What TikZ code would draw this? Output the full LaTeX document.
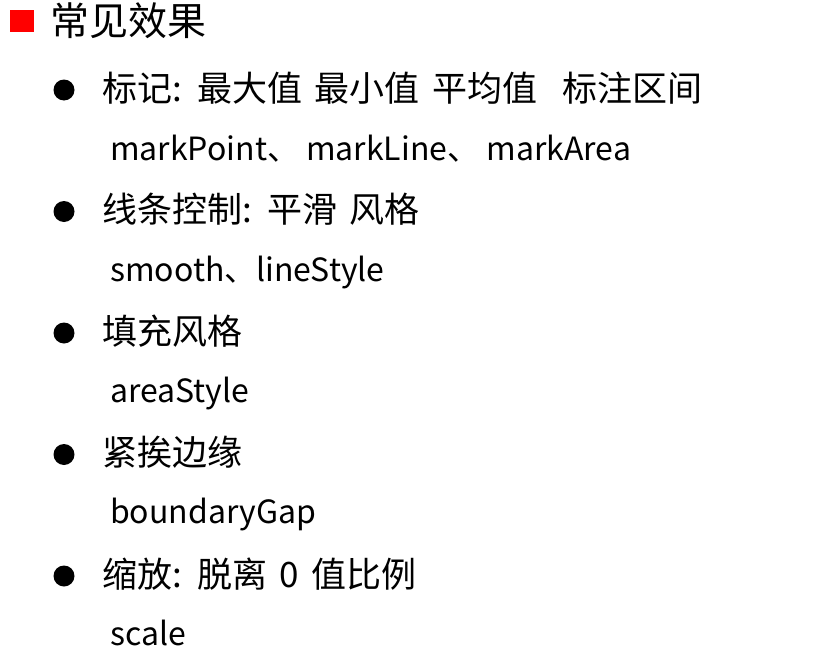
\documentclass[tikz,border=0pt]{standalone}
\usepackage{fontspec}
\setmainfont{Noto Sans CJK SC}
\newfontfamily\headfont{Noto Sans CJK SC}[WordSpace=1.6]
\tikzset{
	headtxt/.style={anchor=base west,inner sep=0pt,font=\headfont\fontsize{35}{40}\selectfont},
	subtxt/.style={anchor=base west,inner sep=0pt,font=\fontsize{32}{38}\selectfont},
	dot/.style={circle,fill=black,inner sep=0pt,minimum size=21pt}
}
\begin{document}
\begin{tikzpicture}[x=1pt,y=-1pt,line join=round,line cap=round]
	\useasboundingbox (0,0) rectangle (839,656);
	\fill[red] (10,10) rectangle (34,32);
	\node[anchor=base west,inner sep=0pt,font=\fontsize{39}{45}\selectfont] (title) at (50,35) {常见效果};
	% bullets and their sub lines
	\foreach \k/\head/\sub in {0/{标记: 最大值 最小值 平均值 \ 标注区间}/{markPoint、 markLine、 markArea},
		1/{线条控制: 平滑 风格}/{smooth、lineStyle},
		2/{填充风格}/{areaStyle},
		3/{紧挨边缘}/{boundaryGap},
		4/{缩放: 脱离 0 值比例}/{scale}}
	{
		\node[dot] (dot\k) at (64,{90+121.5*\k}) {};
		\node[headtxt] (head\k) at (102,{101+121.5*\k}) {\head};
		\node[subtxt] (sub\k) at (110,{160+121.3*\k}) {\sub};
	}
\end{tikzpicture}
\end{document}
